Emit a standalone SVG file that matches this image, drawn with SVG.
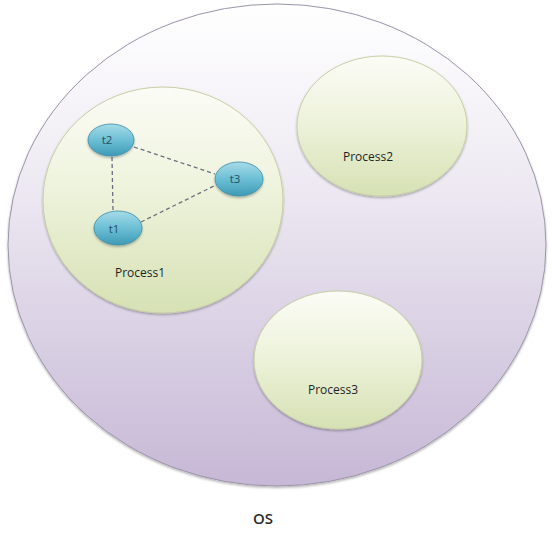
<svg xmlns="http://www.w3.org/2000/svg" width="552" height="537" viewBox="0 0 552 537">
  <defs>
    <linearGradient id="gOS" x1="0" y1="0" x2="0" y2="1">
      <stop offset="0" stop-color="#ffffff"/>
      <stop offset="0.35" stop-color="#efebf3"/>
      <stop offset="1" stop-color="#c6b8d6"/>
    </linearGradient>
    <linearGradient id="gProc" x1="0" y1="0" x2="0" y2="1">
      <stop offset="0" stop-color="#fbfcf6"/>
      <stop offset="0.45" stop-color="#eef3dc"/>
      <stop offset="1" stop-color="#d6e1b4"/>
    </linearGradient>
    <linearGradient id="gThread" x1="0" y1="0" x2="0" y2="1">
      <stop offset="0" stop-color="#a6dbe8"/>
      <stop offset="0.5" stop-color="#6cbfd5"/>
      <stop offset="1" stop-color="#3e9ab5"/>
    </linearGradient>
    <filter id="shadow" x="-10%" y="-10%" width="120%" height="125%">
      <feDropShadow dx="0" dy="1.5" stdDeviation="1.2" flood-color="#000" flood-opacity="0.3"/>
    </filter>
  </defs>
  <style>
    .os { fill: url(#gOS); stroke: #9d94aa; stroke-width: 1; }
    .proc { fill: url(#gProc); stroke: #c9cfa6; stroke-width: 1; }
    .thread { fill: url(#gThread); stroke: #3d8fa8; stroke-width: 0.8; }
    .lbl { font-family: "Open Sans", "Liberation Sans", sans-serif; font-size: 12px; fill: #1f1f1f; text-anchor: middle; }
    .tlbl { font-family: "Open Sans", "Liberation Sans", sans-serif; font-size: 11.5px; fill: #25505e; text-anchor: middle; }
    .oslbl { font-family: "Open Sans", "Liberation Sans", sans-serif; font-size: 15px; font-weight: 600; fill: #2a2a2a; text-anchor: middle; }
    .conn { stroke: #6b6f80; stroke-width: 1.3; stroke-dasharray: 4 3; fill: none; }
  </style>
  <rect width="552" height="537" fill="#ffffff"/>

  <g id="os">
    <ellipse class="os" cx="277" cy="245" rx="269" ry="241" filter="url(#shadow)"/>
    <text class="oslbl" x="263" y="524">OS</text>
  </g>

  <g id="process1">
    <ellipse class="proc" cx="163" cy="200" rx="120" ry="113" filter="url(#shadow)"/>
    <text class="lbl" x="140" y="277">Process1</text>
  </g>

  <g id="process2">
    <ellipse class="proc" cx="382" cy="126" rx="85" ry="70" filter="url(#shadow)"/>
    <text class="lbl" x="368" y="161">Process2</text>
  </g>

  <g id="process3">
    <ellipse class="proc" cx="338" cy="360" rx="84" ry="69" filter="url(#shadow)"/>
    <text class="lbl" x="333" y="394">Process3</text>
  </g>

  <g id="connectors">
    <line class="conn" x1="112" y1="157" x2="113" y2="211"/>
    <line class="conn" x1="134" y1="147" x2="215" y2="174"/>
    <line class="conn" x1="141" y1="222" x2="216" y2="185"/>
  </g>

  <g id="t2">
    <ellipse class="thread" cx="111" cy="140" rx="23" ry="16" filter="url(#shadow)"/>
    <text class="tlbl" x="107" y="144">t2</text>
  </g>
  <g id="t3">
    <ellipse class="thread" cx="239" cy="179" rx="24" ry="17" filter="url(#shadow)"/>
    <text class="tlbl" x="235" y="183">t3</text>
  </g>
  <g id="t1">
    <ellipse class="thread" cx="118" cy="228" rx="24" ry="17" filter="url(#shadow)"/>
    <text class="tlbl" x="114" y="233">t1</text>
  </g>
</svg>
